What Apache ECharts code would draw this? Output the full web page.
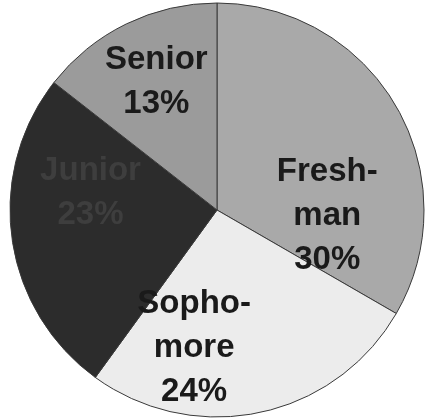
<!DOCTYPE html>
<html>
<head>
<meta charset="utf-8">
<script src="https://cdn.jsdelivr.net/npm/echarts@6/dist/echarts.min.js"></script>
<style>
  html, body { margin: 0; padding: 0; background: #ffffff; }
  #chart { width: 427px; height: 419px; }
</style>
</head>
<body>
<div id="chart"></div>
<script>
// Class standing breakdown
var categories = ['Fresh-\nman', 'Sopho-\nmore', 'Junior', 'Senior'];
var percents = [30, 24, 23, 13];
var sliceColors = ['#a9a9a9', '#ececec', '#2c2c2c', '#9b9b9b'];
var labelColors = ['#1a1a1a', '#1a1a1a', '#3e3e3e', '#1a1a1a'];
// nudges that move each label from the slice's default inside spot
var labelNudges = [[18, 59], [-45, 34], [-21, -32], [-14, -32]];

var data = categories.map(function (name, i) {
  return {
    name: name,
    value: percents[i],
    itemStyle: { color: sliceColors[i] },
    label: { color: labelColors[i], offset: labelNudges[i] }
  };
});

var chart = echarts.init(document.getElementById('chart'), null, { renderer: 'canvas' });
chart.setOption({
  backgroundColor: '#ffffff',
  animation: false,
  series: [{
    type: 'pie',
    center: [217, 210],
    radius: [0, 207],
    startAngle: 90,
    clockwise: true,
    avoidLabelOverlap: false,
    itemStyle: { borderColor: '#3a3a3a', borderWidth: 1 },
    label: {
      show: true,
      position: 'inside',
      formatter: '{b}\n{c}%',
      fontFamily: 'Liberation Sans, Arial, sans-serif',
      fontWeight: 'bold',
      fontSize: 33,
      lineHeight: 44,
      align: 'center'
    },
    labelLine: { show: false },
    emphasis: { disabled: true },
    data: data
  }]
});
</script>
</body>
</html>
